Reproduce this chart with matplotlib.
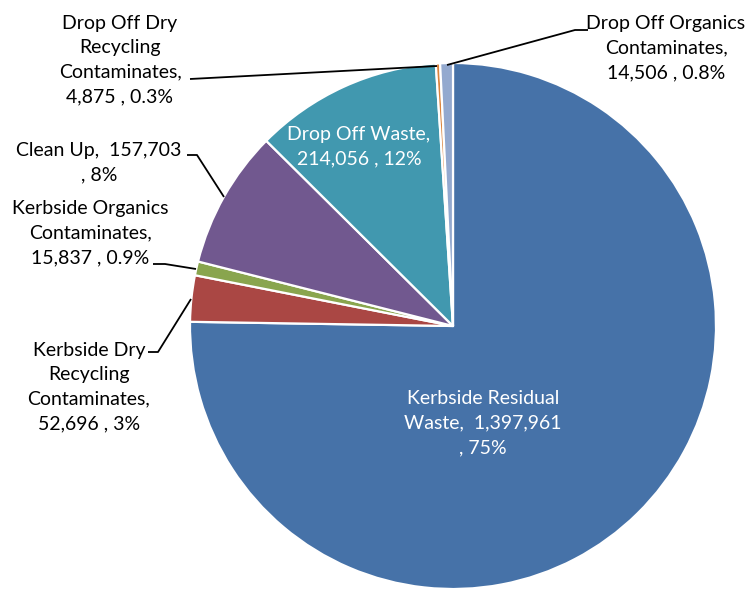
import matplotlib.pyplot as plt

categories = ['Kerbside Residual Waste', 'Kerbside Dry Recycling Contaminates',
              'Kerbside Organics Contaminates', 'Clean Up', 'Drop Off Waste',
              'Drop Off Dry Recycling Contaminates', 'Drop Off Organics Contaminates']
tonnes = [1397961, 52696, 15837, 157703, 214056, 4875, 14506]
labels = ['Kerbside Residual\nWaste,  1,397,961\n, 75%',
          'Kerbside Dry\nRecycling\nContaminates,\n52,696 , 3%',
          'Kerbside Organics\nContaminates,\n15,837 , 0.9%',
          'Clean Up,  157,703\n, 8%',
          'Drop Off Waste,\n214,056 , 12%',
          'Drop Off Dry\nRecycling\nContaminates,\n4,875 , 0.3%',
          'Drop Off Organics\nContaminates,\n14,506 , 0.8%']
colors = ['#4672A8', '#AA4744', '#89A54E', '#71588F', '#4198AF', '#DB843D', '#93A9CF']

plt.rcParams['font.family'] = ['Lato', 'DejaVu Sans']

W, H = 747, 590
CX, CY, R = 453, 326, 263

fig = plt.figure(figsize=(W / 100, H / 100), dpi=100)
ax = fig.add_axes([0, 0, 1, 1])
ax.pie(tonnes, colors=colors, startangle=90, counterclock=False, radius=1,
       wedgeprops=dict(edgecolor='white', linewidth=1.6))
ax.set_xlim(-CX / R, (W - CX) / R)
ax.set_ylim(-(H - CY) / R, CY / R)
ax.set_aspect('auto')
ax.axis('off')


def px(x, y):
    return (x - CX) / R, (CY - y) / R


# label placement: text centre, then leader line points (text end, elbow, wedge) in pixels
label_pos = {
    0: (483, 423),
    1: (89, 387),
    2: (90, 233),
    3: (99, 163),
    4: (359, 147),
    5: (120, 60),
    6: (666, 48),
}
leaders = {
    1: [(148, 352), (158, 352), (191, 299)],
    2: [(153, 264), (165, 264), (196, 269)],
    3: [(187, 155), (197, 155), (224, 197)],
    5: [(190, 79), (437, 66)],
    6: [(588, 30), (575, 30), (447, 65)],
}
inside = {0, 4}

for i, lab in enumerate(labels):
    x, y = px(*label_pos[i])
    ax.text(x, y, lab, ha='center', va='center', fontsize=14, linespacing=1.53,
            color='white' if i in inside else 'black', clip_on=False)
    if i in leaders:
        pts = [px(*p) for p in leaders[i]]
        ax.plot([p[0] for p in pts], [p[1] for p in pts], color='black', lw=1.3,
                clip_on=False, solid_capstyle='butt')

fig.savefig('out.png', dpi=100)
